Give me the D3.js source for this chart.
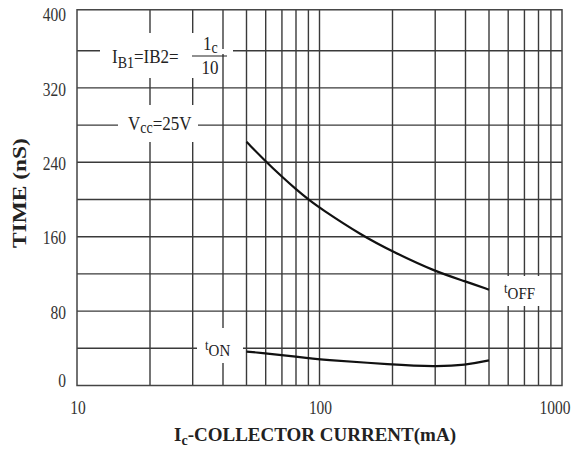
<!DOCTYPE html>
<html>
<head>
<meta charset="utf-8">
<script src="https://cdn.jsdelivr.net/npm/d3@7"></script>
<style>
  body { margin: 0; background: #fff; }
  text { font-family: "Liberation Serif", "Times New Roman", serif; fill: #222; }
</style>
</head>
<body>
<script>
// chart values
const xDomain = [10, 1000];          // collector current, mA (log)
const yDomain = [0, 400];            // time, nS
const yTop = 404;                    // frame sits a touch above 400
const xLabels = [10, 100, 1000];
const yLabels = [0, 80, 160, 240, 320, 400];
const yGrid = [40, 80, 120, 160, 200, 240, 280, 320, 360];

const offCurrent = [50, 60, 70, 80, 90, 100, 150, 200, 300, 400, 500];
const offTime    = [262, 241, 224.5, 211, 200, 191, 161, 144, 122.5, 112, 103];
const onCurrent  = [50, 60, 70, 80, 90, 100, 200, 300, 400, 500];
const onTime     = [36.5, 34.6, 32.7, 31, 29.5, 28, 22.5, 20.3, 21.8, 27];

const width = 573, height = 453;
const svg = d3.select("body").append("svg")
    .attr("width", width)
    .attr("height", height);

const x = d3.scaleLog().domain(xDomain).range([77, 562]);
const y = d3.scaleLinear().domain(yDomain).range([385.5, 13.5]);

// vertical grid: every integer step within each decade
let xGrid = [];
for (let dec = 10; dec < 1000; dec *= 10) {
    for (let k = 2; k <= 9; k++) xGrid.push(k * dec);
}
xGrid.push(100);

const grid = svg.append("g").attr("class", "grid");
grid.selectAll("line.v")
    .data(xGrid)
    .enter().append("line")
    .attr("class", "v")
    .attr("x1", d => x(d)).attr("x2", d => x(d))
    .attr("y1", y(0)).attr("y2", y(yTop))
    .attr("stroke", "#3a3a3a").attr("stroke-width", 1.4);

grid.selectAll("line.h")
    .data(yGrid)
    .enter().append("line")
    .attr("class", "h")
    .attr("x1", x(10)).attr("x2", x(1000))
    .attr("y1", d => y(d)).attr("y2", d => y(d))
    .attr("stroke", "#3a3a3a").attr("stroke-width", 1.4);

// white patches behind the annotations (knock the grid out)
const patches = [
    [100, 33, 119, 45],
    [219, 49, 14, 5],
    [118, 105, 80, 37],
    [197, 328, 46, 35],
    [500, 276, 46, 30]
];
svg.selectAll("rect.patch")
    .data(patches)
    .enter().append("rect")
    .attr("class", "patch")
    .attr("x", d => d[0]).attr("y", d => d[1])
    .attr("width", d => d[2]).attr("height", d => d[3])
    .attr("fill", "#fff");

// frame
svg.append("rect")
    .attr("x", x(10)).attr("y", y(yTop))
    .attr("width", x(1000) - x(10))
    .attr("height", y(0) - y(yTop))
    .attr("fill", "none")
    .attr("stroke", "#444")
    .attr("stroke-width", 1.5);

// curves
const line = d3.line()
    .x(d => x(d[0]))
    .y(d => y(d[1]))
    .curve(d3.curveBasis);

svg.append("path")
    .datum(d3.zip(offCurrent, offTime))
    .attr("d", line)
    .attr("fill", "none").attr("stroke", "#111").attr("stroke-width", 2.2);

svg.append("path")
    .datum(d3.zip(onCurrent, onTime))
    .attr("d", line)
    .attr("fill", "none").attr("stroke", "#111").attr("stroke-width", 2.2);

// tick labels (the original print is stretched tall)
svg.selectAll("g.ylab")
    .data(yLabels)
    .enter().append("g")
    .attr("class", "ylab")
    .attr("transform", d => `translate(66,${Math.min(y(d) + 1, 380)}) scale(1,1.27)`)
    .append("text")
    .attr("text-anchor", "end")
    .attr("dominant-baseline", "central")
    .style("font-size", "15.5px")
    .style("fill", "#333")
    .text(d => d);

svg.selectAll("g.xlab")
    .data(xLabels)
    .enter().append("g")
    .attr("class", "xlab")
    .attr("transform", d => `translate(${x(d) + (d === 1000 ? -7 : 1)},407) scale(1,1.27)`)
    .append("text")
    .attr("text-anchor", "middle")
    .attr("dominant-baseline", "central")
    .style("font-size", "15.5px")
    .style("fill", "#333")
    .text(d => d);

// axis titles
const xt = svg.append("text")
    .attr("x", 315).attr("y", 441)
    .attr("text-anchor", "middle")
    .style("font-size", "19px")
    .style("font-weight", "bold");
xt.append("tspan").text("I");
xt.append("tspan").attr("dy", 4).style("font-size", "14px").text("c");
xt.append("tspan").attr("dy", -4).text("-COLLECTOR CURRENT(mA)");

svg.append("g")
    .attr("transform", "translate(20,193) scale(1,1.2) rotate(-90)")
    .append("text")
    .attr("text-anchor", "middle")
    .attr("dominant-baseline", "central")
    .style("font-size", "19.5px")
    .style("font-weight", "bold")
    .text("TIME (nS)");

// annotations
const ib = svg.append("g").attr("transform", "translate(112,63) scale(1,1.15)")
    .append("text").style("font-size", "17px");
ib.append("tspan").text("I");
ib.append("tspan").attr("dy", 4).style("font-size", "14px").text("B1");
ib.append("tspan").attr("dy", -4).text("=IB2=");

const frac = svg.append("g");
frac.append("line")
    .attr("x1", 192).attr("x2", 227).attr("y1", 56).attr("y2", 56)
    .attr("stroke", "#222").attr("stroke-width", 1.2);
const num = frac.append("g").attr("transform", "translate(203,50) scale(1,1.15)")
    .append("text").style("font-size", "17px");
num.append("tspan").text("1");
num.append("tspan").attr("dy", 3).style("font-size", "14px").text("c");
frac.append("g").attr("transform", "translate(210,74) scale(1,1.15)")
    .append("text").attr("text-anchor", "middle").style("font-size", "17px").text("10");

const vcc = svg.append("g").attr("transform", "translate(128,130) scale(1,1.15)")
    .append("text").style("font-size", "17px");
vcc.append("tspan").text("V");
vcc.append("tspan").attr("dy", 3).style("font-size", "14px").text("cc");
vcc.append("tspan").attr("dy", -3).text("=25V");

const ton = svg.append("g").attr("transform", "translate(205,350) scale(1,1.15)")
    .append("text").style("font-size", "15px");
ton.append("tspan").style("font-size", "13px").text("t");
ton.append("tspan").attr("dy", 5).text("ON");

const toff = svg.append("g").attr("transform", "translate(504,293) scale(1,1.15)")
    .append("text").style("font-size", "15px");
toff.append("tspan").style("font-size", "13px").text("t");
toff.append("tspan").attr("dy", 5).text("OFF");
</script>
</body>
</html>
